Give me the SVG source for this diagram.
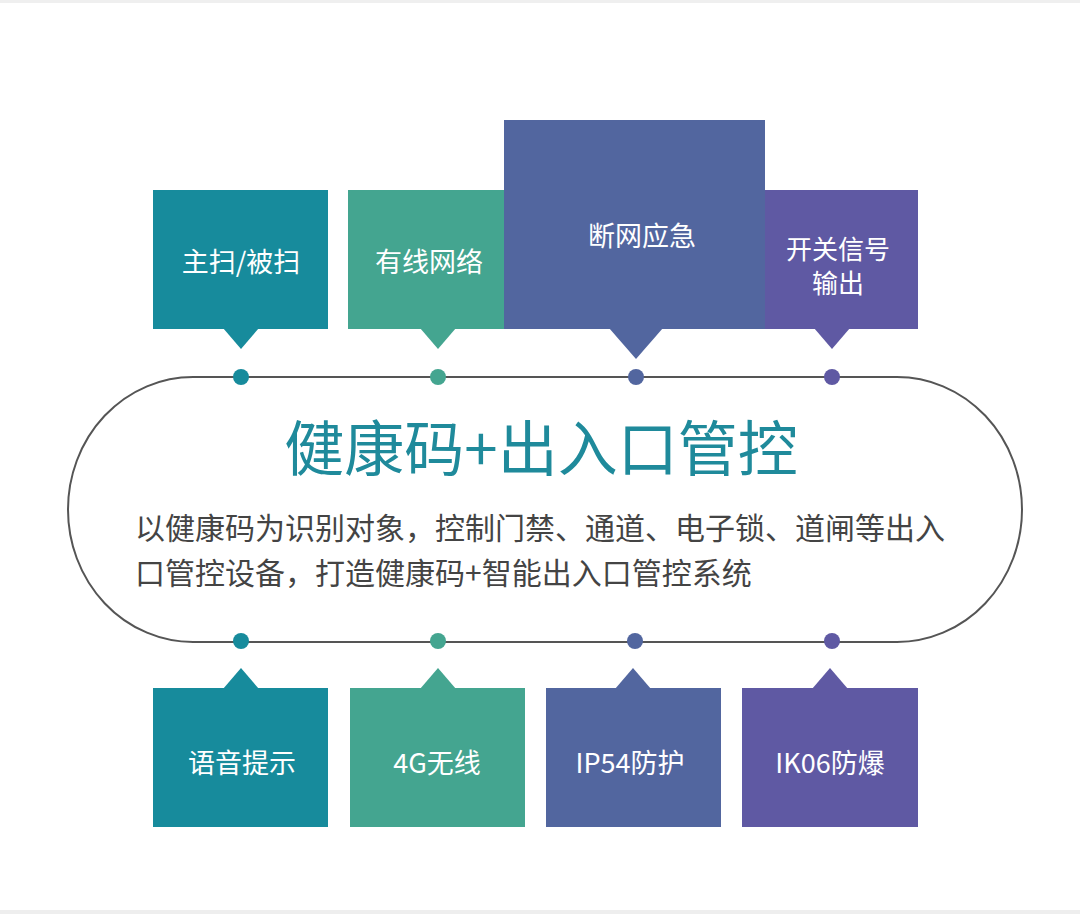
<svg xmlns="http://www.w3.org/2000/svg" width="1080" height="914" viewBox="0 0 1080 914">
<style>
.lbl{font-family:"Noto Sans CJK SC","Noto Sans",sans-serif;font-size:27px;fill:#ffffff;text-anchor:middle}
.sm{font-size:26px}
.c1{fill:#178b9c}.c2{fill:#44a590}.c3{fill:#52669f}.c4{fill:#5f59a3}
.title{font-family:"Noto Sans CJK SC","Noto Sans",sans-serif;font-size:60px;fill:#1f8a9b;text-anchor:middle}
.body{font-family:"Noto Sans CJK SC","Noto Sans",sans-serif;font-size:30px;fill:#444444}
</style>
<rect x="0" y="0" width="1080" height="914" fill="#ffffff"/>
<rect x="0" y="0" width="1080" height="3" fill="#efefef"/>
<rect x="0" y="910" width="1080" height="4" fill="#eeeeee"/>

<g id="hub">
<path d="M193,377 H897 A125,132.5 0 0 1 897,642 H193 A125,132.5 0 0 1 193,377 Z" fill="#ffffff" stroke="#555555" stroke-width="2"/>
<text class="title" x="541" y="471">健康码+出入口管控</text>
<text class="body" x="135" y="539">以健康码为识别对象，控制门禁、通道、电子锁、道闸等出入</text>
<text class="body" x="135" y="584">口管控设备，打造健康码+智能出入口管控系统</text>
</g>

<g id="connectors">
<circle class="c1" cx="241" cy="377" r="8"/>
<circle class="c2" cx="438" cy="377" r="8"/>
<circle class="c3" cx="636" cy="377" r="8"/>
<circle class="c4" cx="832" cy="377" r="8"/>
<circle class="c1" cx="241" cy="641" r="8"/>
<circle class="c2" cx="438" cy="641" r="8"/>
<circle class="c3" cx="635" cy="641" r="8"/>
<circle class="c4" cx="832" cy="641" r="8"/>
</g>

<g id="node-top1">
<rect class="c1" x="153" y="190" width="175" height="139"/>
<polygon class="c1" points="223,328 259,328 241,349"/>
<text class="lbl" x="241" y="272">主扫/被扫</text>
</g>
<g id="node-top2">
<rect class="c2" x="348" y="190" width="157" height="139"/>
<polygon class="c2" points="420,328 456,328 438,349"/>
<text class="lbl" x="429" y="272">有线网络</text>
</g>
<g id="node-top3">
<rect class="c3" x="504" y="120" width="261" height="209"/>
<polygon class="c3" points="609,328 663,328 636,359"/>
<text class="lbl" x="642" y="246">断网应急</text>
</g>
<g id="node-top4">
<rect class="c4" x="765" y="190" width="153" height="139"/>
<polygon class="c4" points="814,328 850,328 832,349"/>
<text class="lbl sm" x="838" y="259">开关信号</text>
<text class="lbl sm" x="838" y="293">输出</text>
</g>

<g id="node-bot1">
<rect class="c1" x="153" y="688" width="175" height="139"/>
<polygon class="c1" points="223,689 259,689 241,668"/>
<text class="lbl" x="242" y="773">语音提示</text>
</g>
<g id="node-bot2">
<rect class="c2" x="350" y="688" width="175" height="139"/>
<polygon class="c2" points="420,689 456,689 438,668"/>
<text class="lbl" x="437" y="773">4G无线</text>
</g>
<g id="node-bot3">
<rect class="c3" x="546" y="688" width="175" height="139"/>
<polygon class="c3" points="615,689 651,689 633,668"/>
<text class="lbl" x="630" y="773">IP54防护</text>
</g>
<g id="node-bot4">
<rect class="c4" x="742" y="688" width="176" height="139"/>
<polygon class="c4" points="812,689 848,689 830,668"/>
<text class="lbl" x="830" y="773">IK06防爆</text>
</g>
</svg>
